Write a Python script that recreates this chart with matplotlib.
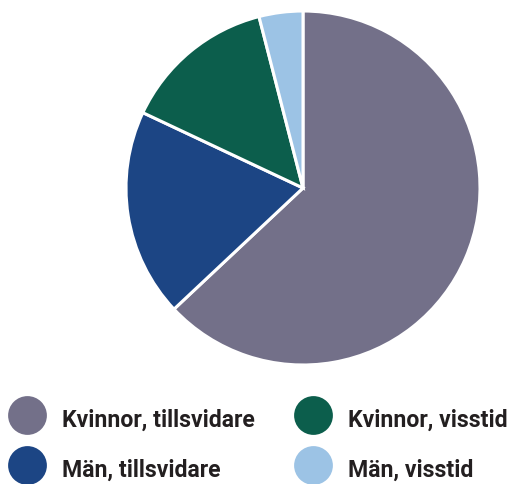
import matplotlib
matplotlib.use("Agg")
import matplotlib.pyplot as plt

labels = ["Kvinnor, tillsvidare", "Män, tillsvidare", "Kvinnor, visstid", "Män, visstid"]
values = [63, 19, 14, 4]
colors = ["#737089", "#1c4584", "#0c5e4c", "#9cc3e5"]

W, H = 512, 485
fig = plt.figure(figsize=(W / 100, H / 100), dpi=100)
fig.patch.set_facecolor("white")

cx, cy, r = 303, 189, 177
ax = fig.add_axes([(cx - r) / W, (H - cy - r) / H, 2 * r / W, 2 * r / H])
ax.pie(values, colors=colors, startangle=90, counterclock=False, radius=1,
       wedgeprops=dict(edgecolor="white", linewidth=2.2))
ax.set_xlim(-1, 1)
ax.set_ylim(-1, 1)
ax.set_aspect("equal")
ax.axis("off")

# legend (manual, two columns)
lax = fig.add_axes([0, 0, 1, 1])
lax.set_xlim(0, W)
lax.set_ylim(H, 0)
lax.axis("off")
order = [0, 2, 1, 3]
pos = [(27.5, 416.5), (313.5, 416.5), (27.5, 466.5), (313.5, 466.5)]
for i, (x, y) in zip(order, pos):
    lax.scatter([x], [y], s=780, color=colors[i], edgecolors="none")
    lax.text(x + 34.5, y + 10.5, labels[i], fontsize=16.6, fontweight="bold",
             color="#231f20", va="baseline", ha="left", family="Roboto")

fig.savefig("out.png", dpi=100)
